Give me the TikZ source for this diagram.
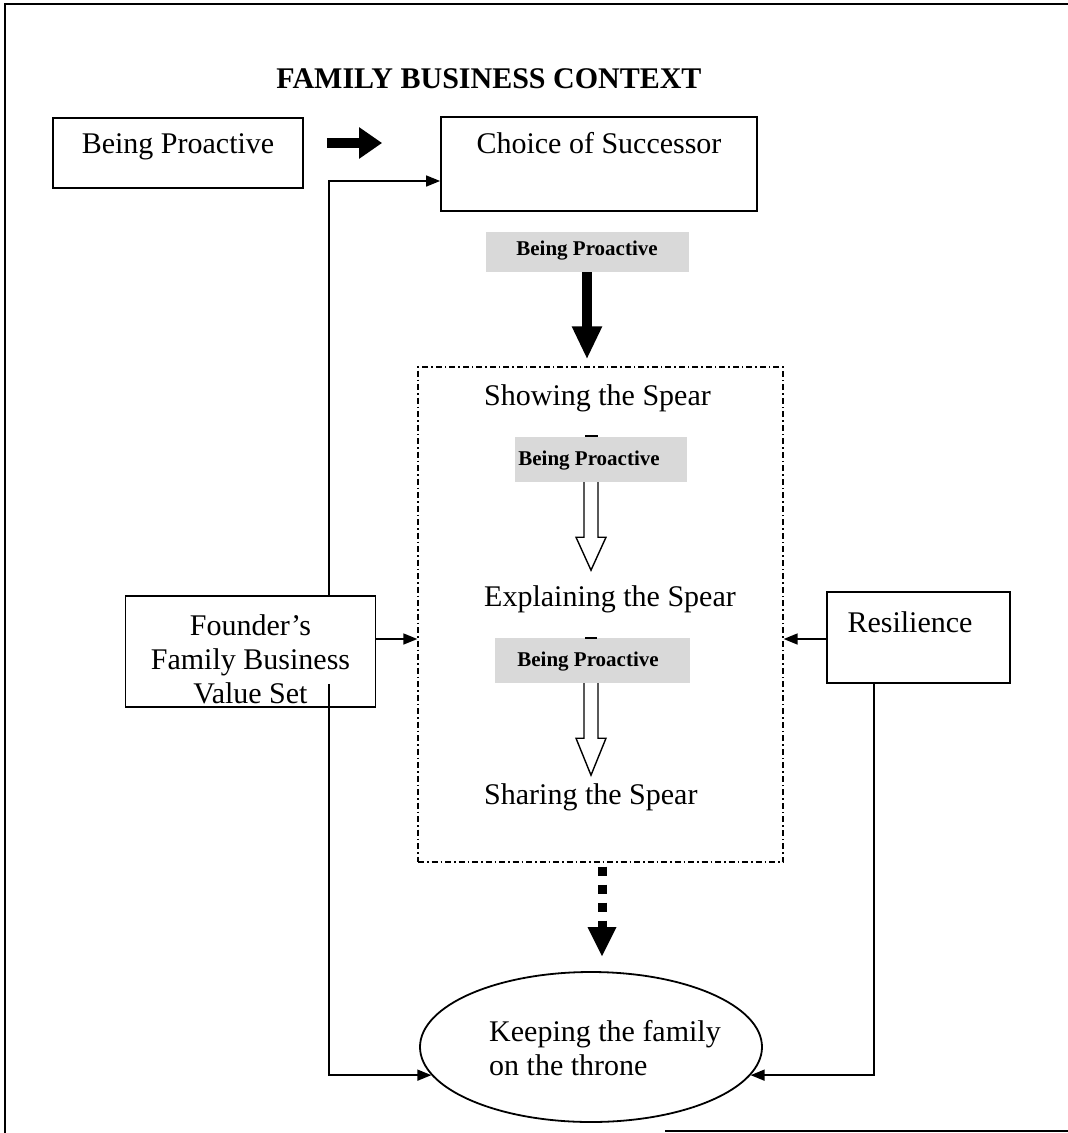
\documentclass[tikz,border=0pt]{standalone}
\usepackage{fontspec}
\setmainfont{Liberation Serif}
\usetikzlibrary{arrows.meta,shapes.geometric,calc}
\begin{document}
\begin{tikzpicture}[x=1pt,y=-1pt,
  box/.style={draw,line width=1.8pt,inner sep=0pt},
  txt/.style={font=\fontsize{30}{34}\selectfont,inner sep=0pt,align=center},
  gtxt/.style={font=\fontsize{21}{24}\selectfont\bfseries,inner sep=0pt},
  graybox/.style={fill=gray!30,draw=none,inner sep=0pt},
  conn/.style={line width=1.6pt,-{Triangle[length=14pt,width=11pt]}},
  bigarrow/.style={line width=10pt},
  hollow/.style={draw,line width=1.4pt,fill=white},
  dashdotbox/.style={draw,line width=1.3pt,dash pattern=on 6pt off 3pt on 1.5pt off 3pt,inner sep=0pt}]
\useasboundingbox (0,0) rectangle (1068,1133);
% outer frame
\draw[line width=2pt] (1068,4) -- (5,4) -- (5,1133);
\draw[line width=2pt] (665,1131) -- (1068,1131);
% title
\node[txt,font=\fontsize{30}{34}\selectfont\bfseries] (title) at (489,79) {FAMILY BUSINESS CONTEXT};
% boxes
\node[box,minimum width=250pt,minimum height=70pt] (bp) at (178,153) {};
\node[txt] (bpt) at (178,147) {Being Proactive};
\node[box,minimum width=316pt,minimum height=94pt] (cs) at (599,164) {};
\node[txt] (cst) at (599,143) {Choice of Successor};
\node[box,minimum width=250pt,minimum height=111pt] (fvs) at (250.5,651.5) {};
\node[txt] (fvst) at (250.5,659) {Founder's\\Family Business\\Value Set};
\node[box,minimum width=183pt,minimum height=91pt] (res) at (918.5,637.5) {};
\node[txt] (rest) at (910,622) {Resilience};
\node[dashdotbox,minimum width=365pt,minimum height=495pt] (dbox) at (600.5,614.5) {};
\node[txt,anchor=west] (show) at (484,398) {Showing the Spear};
\node[txt,anchor=west] (expl) at (484,599) {Explaining the Spear};
\node[txt,anchor=west] (share) at (484,797) {Sharing the Spear};
\node[draw,ellipse,line width=1.8pt,minimum width=342pt,minimum height=150pt,inner sep=0pt] (keep) at (591,1047) {};
\node[txt,align=left] (keept) at (605,1048) {Keeping the family\\on the throne};
% gray labels
\node[graybox,minimum width=203pt,minimum height=40pt] (gb1) at (587,252) {};
\node[gtxt] (gb1t) at (587,251) {Being Proactive};
\node[graybox,minimum width=172pt,minimum height=45pt] (gb2) at (601,459.5) {};
\node[gtxt] (gb2t) at (589,461) {Being Proactive};
\node[graybox,minimum width=195pt,minimum height=45pt] (gb3) at (592.5,660.5) {};
\node[gtxt] (gb3t) at (588,662) {Being Proactive};
\draw[line width=1.5pt] (585,436) -- (598,436);
\draw[line width=1.5pt] (585,638) -- (597,638);
% helper coordinates
\coordinate (ry) at (0,143);
\coordinate (cy) at (0,181);
\coordinate (my) at (0,639);
\coordinate (fx) at (329,0);
\coordinate (rx) at (874,0);
\coordinate (ax) at (591,0);
\coordinate (dx) at (602,0);
% big solid arrows
\draw[bigarrow,-{Triangle[length=23pt,width=30pt]}] ([xshift=23pt]bp.east |- ry) -- ([xshift=-58pt]cs.west |- ry);
\draw[bigarrow,-{Triangle[length=33pt,width=28pt]}] (gb1.south) -- ([yshift=7pt]dbox.north -| gb1.south);
% hollow arrows
\draw[hollow] ([xshift=-7pt]gb2.south -| ax) -- ++(0,55) -- ++(-8,0) -- ++(15,33) -- ++(15,-33) -- ++(-8,0) -- ++(0,-55);
\draw[hollow] ([xshift=-7pt]gb3.south -| ax) -- ++(0,55) -- ++(-8,0) -- ++(15,37) -- ++(15,-37) -- ++(-8,0) -- ++(0,-55);
% dashed arrow
\draw[line width=9pt,dash pattern=on 9pt off 9pt] ([yshift=-4pt]dbox.south -| dx) -- ++(0,64);
\fill ([yshift=44pt]keep.north -| dx) ++(-14.5,0) -- ++(29,0) -- ++(-14.5,29) -- cycle;
% thin connectors
\draw[conn] (fvs.north -| fx) |- (cs.west |- cy);
\draw[conn] (fvs.east |- my) -- (dbox.west |- my);
\draw[conn] (res.west |- my) -- (dbox.east |- my);
\draw[conn] ([yshift=24pt]fvs.south -| fx) |- (keep.190);
\draw[conn] (res.south -| rx) |- (keep.350);
\end{tikzpicture}
\end{document}
